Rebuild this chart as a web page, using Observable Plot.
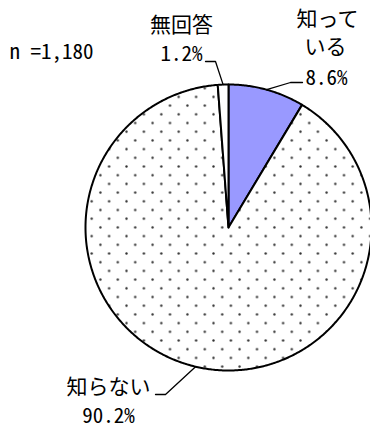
<!DOCTYPE html>
<html><head><meta charset="utf-8">
<script src="https://cdn.jsdelivr.net/npm/d3@7"></script>
<script src="https://cdn.jsdelivr.net/npm/@observablehq/plot@0.6"></script>
<style>
html,body{margin:0;padding:0;background:#fff;}
#chart svg text{font-feature-settings:"hwid" 1;}
</style></head><body><div id="chart"></div>
<script>
// ---- data ----
const categories = ["知っている", "知らない", "無回答"];
const percents = [8.6, 90.2, 1.2];
const nameLines = ["知って\nいる", "知らない", "無回答"];
const sampleLabel = "n =1,180";
const sliceColors = ["#9999ff", "url(#dots)", "#ffffff"];

// ---- layout (pixels) ----
const W = 370, H = 428, CX = 228, CY = 227, R = 143;
const labelPos = [
  [[327, 19], [325, 47], [326, 78]],
  [[108, 387], [108, 416]],
  [[181, 25], [181, 54]]
];
const elbowPos = [
  [[302, 82], [290, 82]],
  [[155, 394], [165, 394]],
  [[205, 61], [215, 61]]
];
const nPos = [9, 52];

const toX = px => (px - CX) / R;
const toY = py => (CY - py) / R;

// slices
const slicePts = [];
const leaderPts = [];
let cum = 0;
categories.forEach((c, i) => {
  const a0 = cum / 100 * 2 * Math.PI;
  cum += percents[i];
  const a1 = cum / 100 * 2 * Math.PI;
  slicePts.push({cat: c, x: 0, y: 0});
  const n = Math.max(2, Math.ceil((a1 - a0) / (Math.PI / 360)));
  for (let k = 0; k <= n; k++) {
    const a = a0 + (a1 - a0) * k / n;
    slicePts.push({cat: c, x: Math.sin(a), y: Math.cos(a)});
  }
  slicePts.push({cat: c, x: 0, y: 0});
  const am = (a0 + a1) / 2;
  elbowPos[i].forEach(([px, py]) => leaderPts.push({cat: c, x: toX(px), y: toY(py)}));
  leaderPts.push({cat: c, x: Math.sin(am), y: Math.cos(am)});
});

const texts = [];
categories.forEach((c, i) => {
  const lines = nameLines[i].split("\n").concat([percents[i].toFixed(1) + "%"]);
  lines.forEach((t, j) => texts.push({t, x: toX(labelPos[i][j][0]), y: toY(labelPos[i][j][1])}));
});

const font = "'Noto Sans CJK JP', 'Noto Sans', sans-serif";

const svg = Plot.plot({
  width: W, height: H, margin: 0,
  style: {background: "#fff", fontFamily: font},
  x: {domain: [-1, 1], range: [CX - R, CX + R], axis: null},
  y: {domain: [-1, 1], range: [CY + R, CY - R], axis: null},
  color: {domain: categories, range: sliceColors},
  marks: [
    Plot.line(slicePts, {x: "x", y: "y", z: "cat", fill: "cat", stroke: "#000", strokeWidth: 2, strokeLinejoin: "round"}),
    Plot.line(leaderPts, {x: "x", y: "y", z: "cat", stroke: "#000", strokeWidth: 1.3}),
    Plot.text(texts, {x: "x", y: "y", text: "t", fontSize: 21, fontFamily: font, fill: "#000"}),
    Plot.text([sampleLabel], {x: toX(nPos[0]), y: toY(nPos[1]), text: d => d, textAnchor: "start", fontSize: 21, fontFamily: font, fill: "#000"})
  ]
});

const defs = d3.select(svg).insert("defs", ":first-child");
const pat = defs.append("pattern").attr("id", "dots").attr("patternUnits", "userSpaceOnUse")
  .attr("x", 8.55).attr("y", 13.75).attr("width", 17.4).attr("height", 17.4);
pat.append("rect").attr("width", 17.4).attr("height", 17.4).attr("fill", "#fff");
pat.append("circle").attr("cx", 4.35).attr("cy", 4.35).attr("r", 1.2).attr("fill", "#333");
pat.append("circle").attr("cx", 13.05).attr("cy", 13.05).attr("r", 1.2).attr("fill", "#333");

document.getElementById("chart").appendChild(svg);
</script></body></html>
